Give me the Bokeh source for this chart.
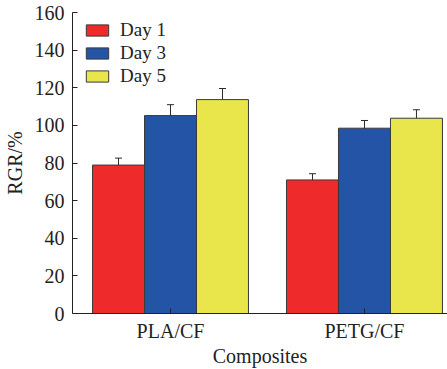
from bokeh.plotting import figure
from bokeh.models import ColumnDataSource, FixedTicker, Whisker, TeeHead, Legend, LegendItem
from bokeh.embed import file_html
from bokeh.resources import INLINE

categories = ["PLA/CF", "PETG/CF"]
days = ["Day 1", "Day 3", "Day 5"]
day1 = [78.9, 71.0]
day3 = [105.2, 98.5]
day5 = [113.7, 103.8]
day1_err = [3.7, 3.3]
day3_err = [5.8, 4.1]
day5_err = [5.9, 4.5]
colors = ["#EE2A2A", "#2454A6", "#E8E64A"]

FONT = "Liberation Serif"
bar_w = 0.268
offsets = [-bar_w, 0.0, bar_w]
cat_x = [1, 2]

p = figure(width=447, height=369, output_backend="svg", toolbar_location=None,
           x_range=(0.4948, 2.428), y_range=(0, 160),
           min_border_left=72, min_border_right=0, min_border_top=12, min_border_bottom=55)
p.outline_line_color = None
p.xgrid.visible = False
p.ygrid.visible = False
p.background_fill_color = "white"

items = []
for name, vals, errs, col, off in zip(days, [day1, day3, day5], [day1_err, day3_err, day5_err], colors, offsets):
    xs = [c + off for c in cat_x]
    src = ColumnDataSource(dict(x=xs, top=vals,
                                upper=[v + e for v, e in zip(vals, errs)],
                                lower=[v - e for v, e in zip(vals, errs)]))
    r = p.vbar(x="x", top="top", width=bar_w, bottom=0, source=src,
               fill_color=col, line_color="#3a3a3a", line_width=1)
    items.append(LegendItem(label=name, renderers=[r]))
    w = Whisker(base="x", upper="upper", lower="lower", source=src,
                line_color="#2a2a2a", line_width=1,
                upper_head=TeeHead(size=7, line_color="#2a2a2a", line_width=1),
                lower_head=TeeHead(size=7, line_color="#2a2a2a", line_width=1))
    p.add_layout(w)

legend = Legend(items=items, location=(11, 226), border_line_color=None,
                background_fill_alpha=0, label_text_font=FONT, label_text_font_size="19px",
                label_text_color="#222222",
                glyph_width=28, glyph_height=14, label_height=23, spacing=0,
                padding=0, margin=0, label_standoff=9)
p.add_layout(legend)

# y axis
p.yaxis.ticker = FixedTicker(ticks=[0, 20, 40, 60, 80, 100, 120, 140, 160])
p.yaxis.major_tick_in = 5
p.yaxis.major_tick_out = 0
p.yaxis.minor_tick_line_color = None
p.yaxis.axis_label = "RGR/%"
p.yaxis.axis_label_text_font = FONT
p.yaxis.axis_label_text_font_size = "20px"
p.yaxis.axis_label_text_font_style = "normal"
p.yaxis.axis_label_standoff = 6
p.yaxis.major_label_text_font = FONT
p.yaxis.major_label_text_font_size = "20px"
p.yaxis.major_label_standoff = 8

# x axis
p.xaxis.ticker = FixedTicker(ticks=cat_x)
p.xaxis.major_label_overrides = {1: categories[0], 2: categories[1]}
p.xaxis.major_tick_in = 5
p.xaxis.major_tick_out = 0
p.xaxis.minor_tick_line_color = None
p.xaxis.axis_label = "Composites"
p.xaxis.axis_label_text_font = FONT
p.xaxis.axis_label_text_font_size = "20px"
p.xaxis.axis_label_text_font_style = "normal"
p.xaxis.axis_label_standoff = 0
p.xaxis.major_label_text_font = FONT
p.xaxis.major_label_text_font_size = "20px"
p.xaxis.major_label_standoff = 6

for ax in (p.xaxis, p.yaxis):
    ax.axis_line_color = "#222222"
    ax.major_tick_line_color = "#222222"
    ax.major_label_text_color = "#222222"
    ax.axis_label_text_color = "#222222"

open("out.html", "w").write(file_html(p, INLINE))
